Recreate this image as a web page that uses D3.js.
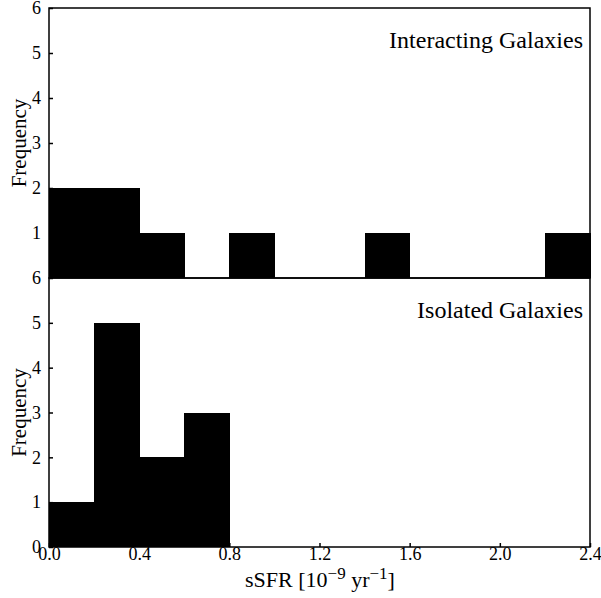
<!DOCTYPE html>
<html>
<head>
<meta charset="utf-8">
<script src="https://cdn.jsdelivr.net/npm/d3@7"></script>
<style>
  body { margin: 0; background: #fff; }
  svg text { font-family: "Liberation Serif", "Times New Roman", serif; fill: #000; }
</style>
</head>
<body>
<div id="chart"></div>
<script>
// bin edges (sSFR, 10^-9 yr^-1), width 0.2
var binStarts = [0.0, 0.2, 0.4, 0.6, 0.8, 1.0, 1.2, 1.4, 1.6, 1.8, 2.0, 2.2];
var binWidth = 0.2;
// counts per bin
var interactingCounts = [2, 2, 1, 0, 1, 0, 0, 1, 0, 0, 0, 1];
var isolatedCounts = [1, 5, 2, 3, 0, 0, 0, 0, 0, 0, 0, 0];
var xTicks = [0.0, 0.4, 0.8, 1.2, 1.6, 2.0, 2.4];
var yTicksTop = [1, 2, 3, 4, 5, 6];
var yTicksBottom = [0, 1, 2, 3, 4, 5, 6];

var W = 601, H = 598;
var svg = d3.select("#chart").append("svg")
    .attr("width", W).attr("height", H);

var x = d3.scaleLinear().domain([0, 2.4]).range([49, 590]);

//draw one histogram panel
function drawPanel(counts, top, bottom, title, yTicks, showX) {
  var y = d3.scaleLinear().domain([0, 6]).range([bottom, top]);
  var g = svg.append("g");

  g.selectAll("rect.bar")
    .data(binStarts.map(function(s, i) { return {x0: s, n: counts[i]}; }))
    .enter().append("rect")
      .attr("class", "bar")
      .attr("x", function(d) { return x(d.x0); })
      .attr("width", function(d) { return x(d.x0 + binWidth) - x(d.x0) + 0.6; })
      .attr("y", function(d) { return y(d.n); })
      .attr("height", function(d) { return y(0) - y(d.n); })
      .attr("fill", "#000")
      .attr("shape-rendering", "crispEdges");

  // frame
  g.append("rect")
    .attr("x", x(0)).attr("y", top)
    .attr("width", x(2.4) - x(0)).attr("height", bottom - top)
    .attr("fill", "none").attr("stroke", "#000").attr("stroke-width", 1.5);

  // y axis, ticks pointing inward
  var ya = g.append("g")
    .attr("transform", "translate(" + x(0) + ",0)")
    .call(d3.axisLeft(y).tickValues(yTicks).tickFormat(d3.format("d"))
      .tickSizeInner(-4).tickSizeOuter(0).tickPadding(8));
  ya.select(".domain").remove();
  ya.selectAll("line").attr("stroke", "#000").attr("stroke-width", 1.5);
  ya.selectAll("text").style("font-size", "18px").attr("fill", "#000");

  if (showX) {
    var xa = g.append("g")
      .attr("transform", "translate(0," + bottom + ")")
      .call(d3.axisBottom(x).tickValues(xTicks).tickFormat(d3.format(".1f"))
        .tickSizeInner(-4).tickSizeOuter(0).tickPadding(0));
    xa.select(".domain").remove();
    xa.selectAll("line").attr("stroke", "#000").attr("stroke-width", 1.5);
    xa.selectAll("text").style("font-size", "18px").attr("fill", "#000");
  }

  g.append("text")
    .attr("transform", "translate(26," + ((top + bottom) / 2) + ") rotate(-90)")
    .attr("text-anchor", "middle")
    .style("font-size", "21px")
    .text("Frequency");

  g.append("text")
    .attr("x", 583).attr("y", top + 40)
    .attr("text-anchor", "end")
    .style("font-size", "24px")
    .text(title);
}

drawPanel(interactingCounts, 8, 278, "Interacting Galaxies", yTicksTop, false);
drawPanel(isolatedCounts, 278, 547, "Isolated Galaxies", yTicksBottom, true);

//x axis label with superscripts
var xl = svg.append("text")
  .attr("x", 320).attr("y", 587)
  .attr("text-anchor", "middle")
  .style("font-size", "22px");
xl.append("tspan").text("sSFR [10");
xl.append("tspan").attr("dy", -8).style("font-size", "17px").text("\u22129");
xl.append("tspan").attr("dy", 8).text(" yr");
xl.append("tspan").attr("dy", -8).style("font-size", "17px").text("\u22121");
xl.append("tspan").attr("dy", 8).text("]");
</script>
</body>
</html>
